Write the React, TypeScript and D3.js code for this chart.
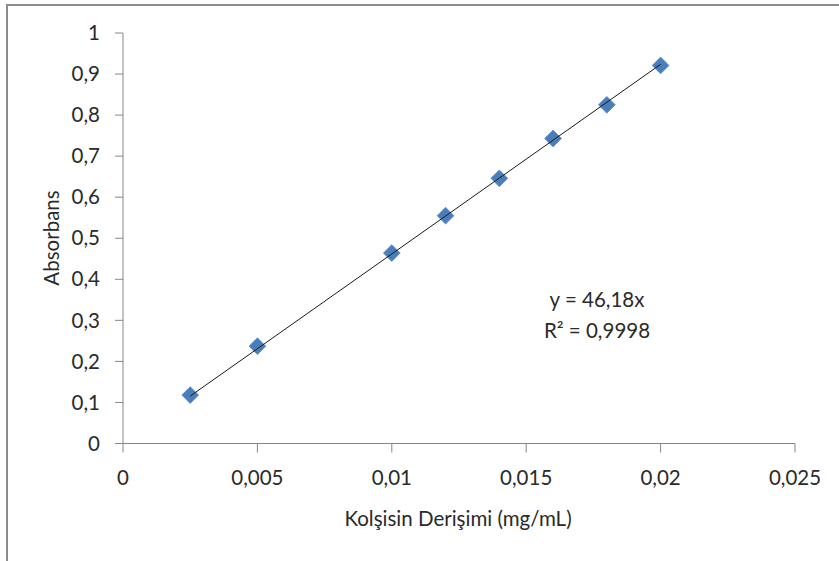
import React from "react";
import * as d3 from "d3";

const concentrations = [0.0025, 0.005, 0.01, 0.012, 0.014, 0.016, 0.018, 0.02];
const absorbances = [0.118, 0.237, 0.464, 0.555, 0.646, 0.743, 0.825, 0.921];
const xTicks = [0, 0.005, 0.01, 0.015, 0.02, 0.025];
const yTicks = [0, 0.1, 0.2, 0.3, 0.4, 0.5, 0.6, 0.7, 0.8, 0.9, 1];
const slope = 46.18;
const equationLines = ["y = 46,18x", "R² = 0,9998"];
const xTitle = "Kolşisin Derişimi (mg/mL)";
const yTitle = "Absorbans";

const W = 839;
const H = 561;
const FONT = "Lato, 'Open Sans', sans-serif";
const TEXT = "#2a2a2a";
const AXIS = "#868686";
const FS = 20.5;

const fmt = (v: number) => String(+v.toFixed(4)).replace(".", ",");

export default function App() {
  const x = d3.scaleLinear().domain([0, 0.025]).range([123, 795]);
  const y = d3.scaleLinear().domain([0, 1]).range([443.5, 33]);
  const diamond = d3.symbol().type(d3.symbolDiamond2).size(180)();
  const xMin = d3.min(concentrations) as number;
  const xMax = d3.max(concentrations) as number;
  const trend = d3.line<number>().x((d) => x(d)).y((d) => y(slope * d))([xMin, xMax]);

  return (
    <svg
      width={W}
      height={H}
      style={{ position: "absolute", left: 0, top: 0, background: "#fff" }}
      fontFamily={FONT}
    >
      <path d={`M7,${H} V5 H${W}`} fill="none" stroke="#8c8c8c" strokeWidth={2} />

      {/* axes */}
      <line x1={x(0)} x2={x(0)} y1={y(0)} y2={y(1)} stroke={AXIS} strokeWidth={1} />
      <line x1={x(0)} x2={x(0.025)} y1={y(0)} y2={y(0)} stroke={AXIS} strokeWidth={1} />
      {yTicks.map((t) => (
        <g key={"y" + t}>
          <line x1={115} x2={x(0)} y1={y(t)} y2={y(t)} stroke={AXIS} />
          <text x={100} y={y(t)} dy="0.35em" textAnchor="end" fontSize={FS} fill={TEXT}>
            {fmt(t)}
          </text>
        </g>
      ))}
      {xTicks.map((t) => (
        <g key={"x" + t}>
          <line x1={x(t)} x2={x(t)} y1={y(0)} y2={y(0) + 9} stroke={AXIS} />
          <text x={x(t)} y={478} dy="0.35em" textAnchor="middle" fontSize={FS} fill={TEXT}>
            {fmt(t)}
          </text>
        </g>
      ))}

      {/* data points */}
      {concentrations.map((c, i) => (
        <path
          key={i}
          d={diamond ?? ""}
          transform={`translate(${x(c)},${y(absorbances[i])})`}
          fill="#4a7ebb"
          stroke="#5b8dc9"
          strokeWidth={0.8}
        />
      ))}

      {/* trendline */}
      <path d={trend ?? ""} fill="none" stroke="#1a1a1a" strokeWidth={1} />

      {/* equation */}
      {equationLines.map((s, i) => (
        <text key={s} x={597} y={300 + i * 31} dy="0.35em" textAnchor="middle" fontSize={FS} fill={TEXT}>
          {s}
        </text>
      ))}

      <text x={458} y={519} dy="0.35em" textAnchor="middle" fontSize={FS} fill={TEXT}>
        {xTitle}
      </text>
      <text
        transform={`translate(52,238) rotate(-90)`}
        dy="0.35em"
        textAnchor="middle"
        fontSize={FS}
        fill={TEXT}
      >
        {yTitle}
      </text>
    </svg>
  );
}
